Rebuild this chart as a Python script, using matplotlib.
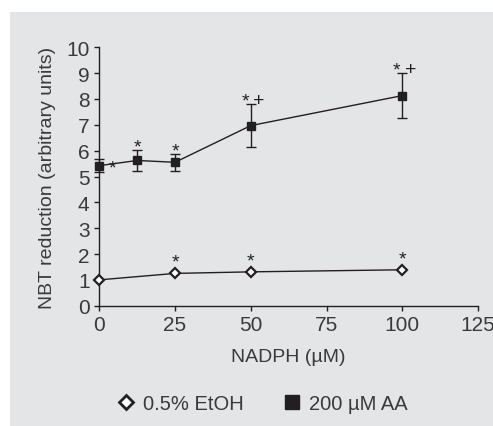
"""NBT reduction vs NADPH concentration (EtOH control vs 200 uM AA)."""

import matplotlib

matplotlib.use("Agg")
import matplotlib.pyplot as plt
from matplotlib.lines import Line2D
from matplotlib.patches import Rectangle

plt.rcParams["font.family"] = ["Liberation Sans", "DejaVu Sans"]

# data
nadph_etoh = [0, 25, 50, 100]
nbt_etoh = [1.0, 1.25, 1.31, 1.39]
marks_etoh = ["", "*", "*", "*"]

nadph_aa = [0, 12.5, 25, 50, 100]
nbt_aa = [5.42, 5.62, 5.55, 6.97, 8.13]
err_aa = [0.25, 0.42, 0.33, 0.82, 0.86]
marks_aa = ["*", "*", "*", "*+", "*+"]

x_ticks = [0, 25, 50, 75, 100, 125]
y_ticks = list(range(0, 11))

BG = "#e4e5e7"
INK = "#231f20"
TXT = "#3a3a3a"
STAR_FS = 14


def mark(ax, x, y, sym, dx=0.0, dy=7.0):
    # dy is where the glyph centre should sit, in points above (x, y)
    if sym == "*":
        off = dy - 0.58 * STAR_FS
    else:
        off = dy - 0.58 * STAR_FS + 0.5
    ax.annotate(sym, (x, y), xytext=(dx, off), textcoords="offset points",
                ha="center", va="baseline", fontsize=STAR_FS, color=INK,
                annotation_clip=False)


fig = plt.figure(figsize=(4.93, 4.27), dpi=100, facecolor="white")
fig.patches.append(Rectangle((10 / 493, 0.0), 1.0, 1 - 13 / 427, transform=fig.transFigure,
                             facecolor=BG, edgecolor="none", zorder=-5))

ax = fig.add_axes([99.3 / 493, 1 - 306.7 / 427, (478 - 99.3) / 493, (306.7 - 48.3) / 427])
ax.set_facecolor("none")
for side in ("top", "right"):
    ax.spines[side].set_visible(False)
for side in ("left", "bottom"):
    ax.spines[side].set_linewidth(1.0)
    ax.spines[side].set_color(INK)
    ax.spines[side].set_zorder(1)

ax.errorbar(nadph_aa, nbt_aa, yerr=err_aa, color=INK, lw=1.0, marker="s", ms=5.6,
            mfc=INK, mec=INK, ecolor=INK, elinewidth=1.0, capsize=3.3, capthick=1.0,
            clip_on=False, zorder=3)
ax.plot(nadph_etoh, nbt_etoh, color=INK, lw=1.0, marker="D", ms=5.4, mfc="white",
        mec=INK, mew=1.6, clip_on=False, zorder=3)

for x, y, e, m in zip(nadph_aa, nbt_aa, err_aa, marks_aa):
    if x == 0:
        mark(ax, x, y, "*", dx=9.5, dy=3.5)
    elif m == "*":
        mark(ax, x, y + e, "*")
    else:
        mark(ax, x, y + e, "*", dx=-4.0)
        mark(ax, x, y + e, "+", dx=6.0)
for x, y, m in zip(nadph_etoh, nbt_etoh, marks_etoh):
    if m:
        mark(ax, x, y, m, dy=13)

ax.set_xlim(0, 125)
ax.set_ylim(0, 10)
ax.set_xticks(x_ticks)
ax.set_yticks(y_ticks)
ax.tick_params(axis="both", direction="out", length=3.5, width=1.0, colors=INK,
               labelsize=15, labelcolor=TXT, pad=3.5)
ax.set_xlabel("NADPH (µM)", fontsize=14, color=TXT, labelpad=10)
ax.set_ylabel("NBT reduction (arbitrary units)", fontsize=14, color=TXT, labelpad=7)

handles = [
    Line2D([], [], ls="none", marker="D", ms=7.5, mfc="white", mec=INK, mew=2.0),
    Line2D([], [], ls="none", marker="s", ms=10, mfc=INK, mec=INK),
]
fig.legend(handles, ["0.5% EtOH", "200 µM AA"], loc="center", ncol=2,
           bbox_to_anchor=(262 / 493, 1 - 405 / 427), frameon=False, fontsize=14.5,
           handlelength=1.0, handletextpad=0.35, columnspacing=1.9, labelcolor=TXT)

fig.savefig("out.png", dpi=100, facecolor="white")
